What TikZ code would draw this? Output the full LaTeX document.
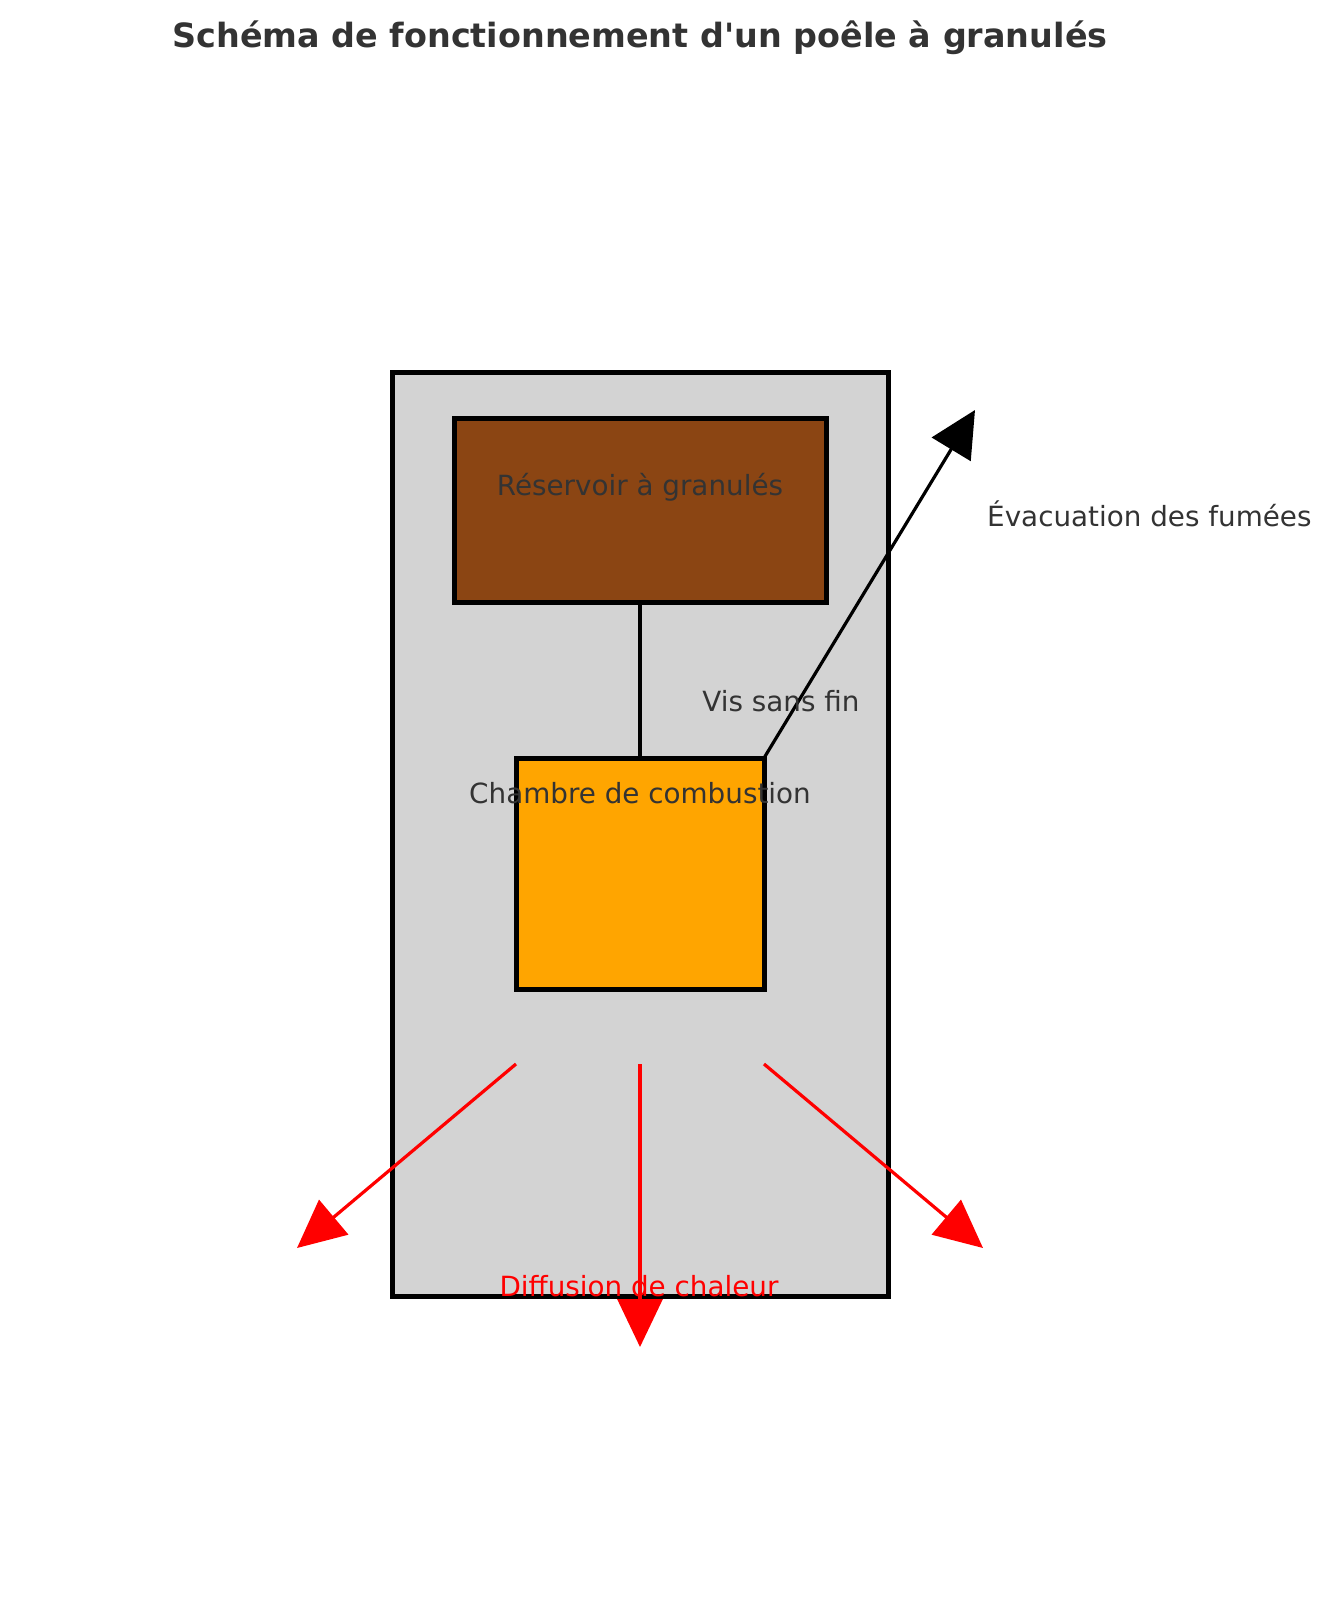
\documentclass[tikz,border=0pt]{standalone}
\usepackage{fontspec}
\setmainfont{DejaVu Sans}
\usetikzlibrary{arrows.meta}
\definecolor{txt}{HTML}{333333}
\definecolor{stovegray}{HTML}{D3D3D3}
\definecolor{brownres}{HTML}{8B4513}
\definecolor{orangech}{HTML}{FFA500}
\tikzset{
  boxshape/.style={draw=black, line width=5pt, inner sep=0pt, outer sep=0pt, rectangle},
  lbl/.style={text=txt, font=\fontsize{27.8}{33}\selectfont, inner sep=0pt},
  redlbl/.style={text=red, font=\fontsize{27.8}{33}\selectfont, inner sep=0pt},
  smokearrow/.style={draw=black, line width=3.2pt, -{Triangle[length=46pt,width=45pt]}},
  heatarrow/.style={draw=red, line width=3.2pt, -{Triangle[length=48pt,width=45pt]}},
  linkline/.style={draw=black, line width=3.2pt}
}
\begin{document}
\begin{tikzpicture}[x=1pt,y=-1pt]
\useasboundingbox (0,0) rectangle (1331,1624);
\node[text=txt, font=\fontsize{33.4}{40}\selectfont\bfseries, inner sep=0pt] (title) at (640,38) {Schéma de fonctionnement d\textquotesingle un poêle à granulés};
\node[boxshape, fill=stovegray, minimum width=496pt, minimum height=924pt] (stove) at (640,834) {};
\node[boxshape, fill=brownres, minimum width=372pt, minimum height=184pt] (res) at (640,510) {};
\node[boxshape, fill=orangech, minimum width=248pt, minimum height=231pt] (ch) at (640,873.5) {};
\draw[linkline] (res.south) -- (ch.north);
\coordinate (smoketip) at (975,410);
\draw[smokearrow] (ch.north east) -- (smoketip);
\coordinate (h1) at (516,1064);
\coordinate (h2) at (640,1064);
\coordinate (h3) at (764,1064);
\coordinate (t1) at (297,1248);
\coordinate (t2) at (640,1347);
\coordinate (t3) at (983,1248);
\draw[heatarrow] (h1) -- (t1);
\draw[heatarrow] (h2) -- (t2);
\draw[heatarrow] (h3) -- (t3);
\node[lbl] (reslbl) at (640,487) {Réservoir à granulés};
\node[lbl] (chlbl) at (640,793) {Chambre de combustion};
\node[lbl] (vislbl) at (781,701) {Vis sans fin};
\node[lbl, anchor=west] (smokelbl) at (987,514) {Évacuation des fumées};
\node[redlbl] (heatlbl) at (639,1286) {Diffusion de chaleur};
\end{tikzpicture}
\end{document}
